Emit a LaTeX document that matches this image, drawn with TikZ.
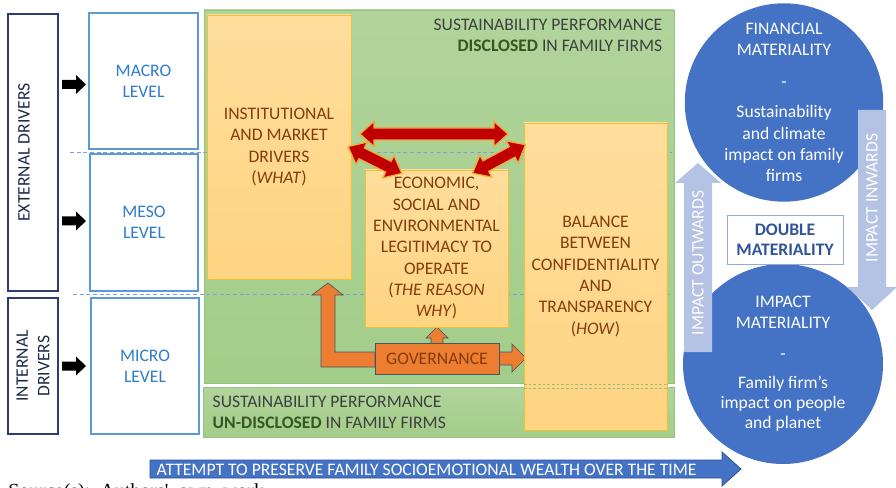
\documentclass[tikz,border=0pt]{standalone}
\usepackage{fontspec}
\setmainfont{Carlito}
\newfontfamily\srcfont{Liberation Serif}
\usetikzlibrary{calc}
\definecolor{navyc}{HTML}{2F3B6E}
\definecolor{navytxt}{HTML}{1F2A4A}
\definecolor{lvlborder}{HTML}{5B9BD5}
\definecolor{lvltxt}{HTML}{2E7BCF}
\definecolor{dashc}{HTML}{7F9FD6}
\definecolor{grtop}{HTML}{B1D49C}
\definecolor{grbot}{HTML}{A3CD89}
\definecolor{grborder}{HTML}{93C47D}
\definecolor{grtxt}{HTML}{3F3F3F}
\definecolor{grbold}{HTML}{375623}
\definecolor{otop}{HTML}{FFDE9C}
\definecolor{obot}{HTML}{FFD482}
\definecolor{oborder}{HTML}{F2C037}
\definecolor{otxt}{HTML}{843C0C}
\definecolor{redar}{HTML}{C00000}
\definecolor{redglow}{HTML}{F7A832}
\definecolor{govfill}{HTML}{ED7D31}
\definecolor{govborder}{HTML}{44546A}
\definecolor{bluec}{HTML}{4472C4}
\definecolor{blueborder}{HTML}{2F528F}
\definecolor{peri}{HTML}{B4C2E4}
\definecolor{dmtxt}{HTML}{2F5597}
\definecolor{dmborder}{HTML}{8FAADC}
\tikzset{
  box/.style={rectangle, inner sep=0pt, align=center},
  drv/.style={box, draw=navyc, line width=0.9pt, fill=white},
  lvl/.style={box, draw=lvlborder, line width=0.8pt, fill=white, text=lvltxt},
  obox/.style={box, top color=otop, bottom color=obot, draw=oborder, line width=0.6pt, text=otxt},
  gbox/.style={box, top color=grtop, bottom color=grbot, draw=grborder, line width=0.6pt},
  redarrow/.style={fill=redar, draw=redglow, line width=0.9pt, line join=miter},
  govarrow/.style={fill=govfill, draw=govborder, line width=0.5pt},
  periarrow/.style={fill=peri},
  circ/.style={circle, fill=bluec, text=white, inner sep=0pt, align=center},
  dashline/.style={draw=dashc, dash pattern=on 3pt off 2pt, line width=0.7pt},
  pics/dblarrow/.style args={#1/#2/#3/#4}{code={
    \path[redarrow] (-#1,0) -- (-#1+#4,#3) -- (-#1+#4,#2) -- (#1-#4,#2) -- (#1-#4,#3)
      -- (#1,0) -- (#1-#4,-#3) -- (#1-#4,-#2) -- (-#1+#4,-#2) -- (-#1+#4,-#3) -- cycle;}},
  pics/blkarrow/.style={code={
    \fill[black] (0,-4.5) -- (14,-4.5) -- (14,-9.5) -- (24,0) -- (14,9.5) -- (14,4.5) -- (0,4.5) -- cycle;}}
}
\begin{document}
\begin{tikzpicture}[x=0.75pt,y=-0.75pt,font=\fontsize{13.2}{16}\selectfont]
\useasboundingbox (0,0) rectangle (896,488);

% left driver boxes
\node[drv, minimum width=37.5pt, minimum height=207.75pt] (ext) at (33,152.5) {};
\node[text=navytxt, rotate=90] (extt) at (24,152.5) {EXTERNAL DRIVERS};
\node[drv, minimum width=37.5pt, minimum height=102pt] (int) at (33,366) {};
\node[text=navytxt, rotate=90, align=center] (intt) at (33,366) {INTERNAL\\DRIVERS};

\pic at (62,84.5) {blkarrow};
\pic at (62,221) {blkarrow};
\pic at (62,366) {blkarrow};

\node[lvl, minimum width=81.75pt, minimum height=102pt] (macro) at (143.5,81) {MACRO\\LEVEL};
\node[lvl, minimum width=81pt, minimum height=102.75pt] (meso) at (144,222.5) {MESO\\LEVEL};
\node[lvl, minimum width=81pt, minimum height=102pt] (micro) at (145,366) {MICRO\\LEVEL};

% green areas
\node[gbox, minimum width=352.5pt, minimum height=279.75pt] (disc) at (439,196.5) {};
\node[gbox, minimum width=353.25pt, minimum height=37.5pt] (undisc) at (438.5,412) {};
\node[anchor=east, align=right, text=grtxt] (disct) at (667,35.5)
  {SUSTAINABILITY PERFORMANCE\\\textcolor{grbold}{\textbf{DISCLOSED}} IN FAMILY FIRMS};
\node[anchor=west, align=left, text=grtxt] (undisct) at (208,412.5)
  {SUSTAINABILITY PERFORMANCE\\\textcolor{grbold}{\textbf{UN-DISCLOSED}} IN FAMILY FIRMS};

% dashed level separators
\coordinate (d1a) at (70,152); \coordinate (d1b) at (672,152);
\coordinate (d2a) at (73,294); \coordinate (d2b) at (672,294);
\path[dashline] (d1a) -- (d1b);
\path[dashline] (d2a) -- (d2b);

% governance arrows
\path[govarrow] (375,352) -- (335,352) -- (335,295) -- (343,295) -- (328,283) -- (312,295)
  -- (321,295) -- (321,367) -- (375,367) -- cycle;
\path[govarrow] (431,344) -- (431,338) -- (426,338) -- (437,327) -- (448,338) -- (443,338) -- (443,344) -- cycle;
\path[govarrow] (498,352) -- (512,352) -- (512,344) -- (526,358) -- (512,372) -- (512,365) -- (498,365) -- cycle;

% orange boxes
\node[obox, minimum width=108pt, minimum height=198pt] (what) at (279,147)
  {INSTITUTIONAL\\AND MARKET\\DRIVERS\\(\textit{WHAT})};
\node[obox, minimum width=107.25pt, minimum height=117.75pt] (why) at (436.5,248.5)
  {ECONOMIC,\\SOCIAL AND\\ENVIRONMENTAL\\LEGITIMACY TO\\OPERATE\\(\textit{THE REASON}\\\textit{WHY})};
\node[obox, minimum width=107.25pt, minimum height=230.25pt] (how) at (595.5,276.5)
  {BALANCE\\BETWEEN\\CONFIDENTIALITY\\AND\\TRANSPARENCY\\(\textit{HOW})};
\path[draw=grborder, dash pattern=on 2pt off 1.5pt, line width=0.5pt] (524,384) -- (667,384);
\path[draw=grborder, dash pattern=on 2pt off 1.5pt, line width=0.5pt] (524,388) -- (667,388);

\node[box, fill=govfill, draw=govborder, line width=0.5pt, text=otxt, minimum width=93pt, minimum height=23.25pt] (gov) at (437,358.5) {GOVERNANCE};

% red interaction arrows
\pic at (434,134) {dblarrow=74/6/12.5/14};
\pic[rotate=-26.6] at (375,160) {dblarrow=30/6/12.5/15};
\pic[rotate=28.3] at (499,159) {dblarrow=30/6/12.5/15};

% double materiality
\node[circ, minimum size=147.5pt] (fin) at (784,102.5)
  {FINANCIAL\\MATERIALITY\\[8pt]-\\[6.5pt]Sustainability\\and climate\\impact on family\\firms};
\node[circ, minimum size=150pt] (imp) at (783,364)
  {IMPACT\\MATERIALITY\\[7pt]-\\[6pt]Family firm’s\\[-1pt]impact on people\\[-1pt]and planet};
\path[periarrow] (684,352) -- (684,183) -- (675,183) -- (698,163) -- (721,183) -- (712,183) -- (712,352) -- cycle;
\path[periarrow] (858,110) -- (886,110) -- (886,287) -- (897,287) -- (872,310) -- (847,287) -- (858,287) -- cycle;
\node[rotate=90, text=white] (outw) at (698,263) {IMPACT OUTWARDS};
\node[rotate=90, text=white] (inw) at (872,198) {IMPACT INWARDS};
\node[box, fill=white, draw=dmborder, line width=0.7pt, text=dmtxt, font=\fontsize{13.2}{15}\selectfont\bfseries,
  minimum width=87pt, minimum height=36.75pt] (dm) at (785,239.5) {DOUBLE\\MATERIALITY};

% time arrow
\path[fill=bluec, draw=blueborder, line width=0.6pt] (150,460) -- (722,460) -- (722,452) -- (741,469)
  -- (722,486) -- (722,478) -- (150,478) -- cycle;
\node[anchor=west, text=white] (sew) at (152,469.5) {ATTEMPT TO PRESERVE FAMILY SOCIOEMOTIONAL WEALTH OVER THE TIME};

% source line (cut by the page edge)
\node[anchor=base west, inner sep=0pt, font=\srcfont\fontsize{15}{18}\selectfont] (src) at (8,497)
  {Source(s):\ \ Authors'\ \ own\ \ work};
\end{tikzpicture}
\end{document}
